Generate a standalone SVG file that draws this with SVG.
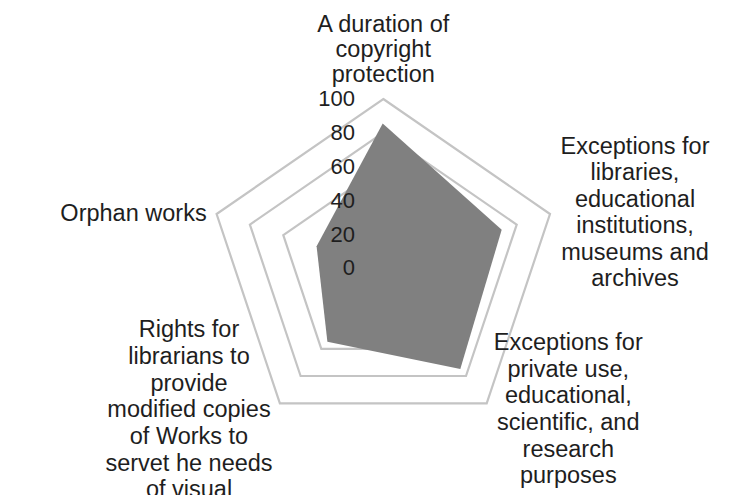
<svg xmlns="http://www.w3.org/2000/svg" width="747" height="495" viewBox="0 0 747 495">
<style>
.ring{fill:none;stroke:#c4c4c4;stroke-width:2.2;stroke-linejoin:miter}
.data{fill:#808080;stroke:none}
.lbl{font-family:"Liberation Sans",Arial,sans-serif;font-size:23.5px;fill:#1e1e1e;text-anchor:middle}
.num{font-family:"Liberation Sans",Arial,sans-serif;font-size:22px;fill:#1e1e1e;text-anchor:end}
</style>
<rect x="0" y="0" width="747" height="495" fill="#ffffff"/>
<g id="grid">
<polygon class="ring" points="383.3,99 550,214 486.7,403.3 279.9,403.3 216.6,214"/>
<polygon class="ring" points="383.3,132.6 516.7,224.6 466,376 300.6,376 249.9,224.6"/>
<polygon class="ring" points="383.3,166.2 483.3,235.2 445.3,348.8 321.3,348.8 283.3,235.2"/>
</g>
<g id="series">
<polygon class="data" points="382.7,123.5 501.7,229.8 460.3,369 327.4,341.8 316.6,246.3"/>
</g>
<g id="axis-values">
<text class="num" x="355" y="105.5">100</text>
<text class="num" x="355" y="139.5">80</text>
<text class="num" x="355" y="173.5">60</text>
<text class="num" x="355" y="207.5">40</text>
<text class="num" x="355" y="241.5">20</text>
<text class="num" x="355" y="275">0</text>
</g>
<g id="label-top">
<text class="lbl" x="383.3" y="31.5">A duration of</text>
<text class="lbl" x="383.3" y="57">copyright</text>
<text class="lbl" x="383.3" y="82">protection</text>
</g>
<g id="label-right">
<text class="lbl" x="635" y="153.5">Exceptions for</text>
<text class="lbl" x="635" y="180">libraries,</text>
<text class="lbl" x="635" y="206.5">educational</text>
<text class="lbl" x="635" y="233">institutions,</text>
<text class="lbl" x="635" y="259.5">museums and</text>
<text class="lbl" x="635" y="286">archives</text>
</g>
<g id="label-bottom-right">
<text class="lbl" x="568.3" y="350">Exceptions for</text>
<text class="lbl" x="568.3" y="376.7">private use,</text>
<text class="lbl" x="568.3" y="403.3">educational,</text>
<text class="lbl" x="568.3" y="430">scientific, and</text>
<text class="lbl" x="568.3" y="456.7">research</text>
<text class="lbl" x="568.3" y="483.3">purposes</text>
</g>
<g id="label-bottom-left">
<text class="lbl" x="189" y="337.3">Rights for</text>
<text class="lbl" x="189" y="364">librarians to</text>
<text class="lbl" x="189" y="390.7">provide</text>
<text class="lbl" x="189" y="417.3">modified copies</text>
<text class="lbl" x="189" y="444">of Works to</text>
<text class="lbl" x="189" y="470.7">servet he needs</text>
<text class="lbl" x="189" y="497.3">of visual</text>
</g>
<g id="label-left">
<text class="lbl" x="133.5" y="221">Orphan works</text>
</g>
</svg>
